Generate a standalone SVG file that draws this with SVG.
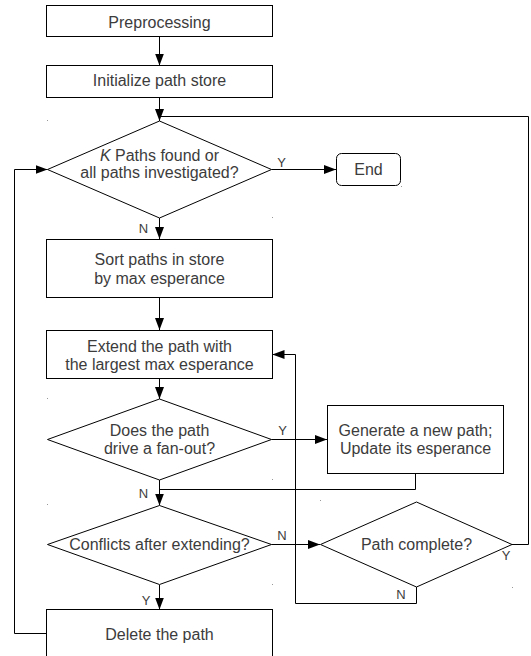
<svg xmlns="http://www.w3.org/2000/svg" width="531" height="656" viewBox="0 0 531 656">
  <style>
    .box { fill: #ffffff; stroke: #000000; stroke-width: 1; }
    .wire { fill: none; stroke: #000000; stroke-width: 1; }
    .txt { font-family: "Liberation Sans", Arial, sans-serif; font-size: 16px; fill: #3c3c3c; text-anchor: middle; }
    .lbl { font-family: "Liberation Sans", Arial, sans-serif; font-size: 13px; fill: #3c3c3c; text-anchor: middle; }
    .speck { fill: #9a9a9a; }
  </style>
  <defs>
    <marker id="arrow" markerUnits="userSpaceOnUse" markerWidth="12" markerHeight="9" refX="12" refY="4.5" orient="auto">
      <path d="M0,0 L12,4.5 L0,9 z" fill="#000000"/>
    </marker>
  </defs>
  <rect width="531" height="656" fill="#ffffff"/>

  <!-- connectors -->
  <g id="connectors">
    <path class="wire" d="M159.5,36.5 V65.5" marker-end="url(#arrow)"/>
    <path class="wire" d="M159.5,97.5 V121" marker-end="url(#arrow)"/>
    <path class="wire" d="M512,544.5 H528.5 V116.5 H159.5"/>
    <path class="wire" d="M271.5,169.5 H336" marker-end="url(#arrow)"/>
    <path class="wire" d="M159.5,218 V239" marker-end="url(#arrow)"/>
    <path class="wire" d="M159.5,297.5 V330" marker-end="url(#arrow)"/>
    <path class="wire" d="M159.5,379 V399" marker-end="url(#arrow)"/>
    <path class="wire" d="M271.5,439.5 H327" marker-end="url(#arrow)"/>
    <path class="wire" d="M415.5,473.5 V489.5 H159.5"/>
    <path class="wire" d="M159.5,480 V505.5" marker-end="url(#arrow)"/>
    <path class="wire" d="M271.5,544.5 H320" marker-end="url(#arrow)"/>
    <path class="wire" d="M416.5,587 V603.5 H295.5 V354.5 H272.5" marker-end="url(#arrow)"/>
    <path class="wire" d="M159.5,585 V609.5" marker-end="url(#arrow)"/>
    <path class="wire" d="M46.5,633.5 H14.5 V169.5 H47.5" marker-end="url(#arrow)"/>
    <text class="lbl" x="281.5" y="166.5">Y</text>
    <text class="lbl" x="143.5" y="232.5">N</text>
    <text class="lbl" x="282.5" y="435">Y</text>
    <text class="lbl" x="143.5" y="497.5">N</text>
    <text class="lbl" x="282" y="539.5">N</text>
    <text class="lbl" x="506" y="559.5">Y</text>
    <text class="lbl" x="401" y="598.5">N</text>
    <text class="lbl" x="146" y="604.5">Y</text>
  </g>

  <g id="preprocessing">
    <rect class="box" x="46.5" y="5.5" width="226" height="31"/>
    <text class="txt" x="159.5" y="27.5">Preprocessing</text>
  </g>

  <g id="init-store">
    <rect class="box" x="46.5" y="65.5" width="226" height="32"/>
    <text class="txt" x="159.5" y="86">Initialize path store</text>
  </g>

  <g id="check-done">
    <path class="box" d="M159.5,121 L271.5,169.5 L159.5,218 L47.5,169.5 Z"/>
    <text class="txt" x="159.5" y="160.5"><tspan font-style="italic">K</tspan> Paths found or</text>
    <text class="txt" x="159.5" y="177.5">all paths investigated?</text>
  </g>

  <g id="end">
    <rect class="box" x="336.5" y="153.5" width="64" height="32" rx="5" ry="5"/>
    <text class="txt" x="368.5" y="175">End</text>
  </g>

  <g id="sort-paths">
    <rect class="box" x="46.5" y="239.5" width="226" height="58"/>
    <text class="txt" x="159.5" y="265">Sort paths in store</text>
    <text class="txt" x="159.5" y="283.5">by max esperance</text>
  </g>

  <g id="extend-path">
    <rect class="box" x="46.5" y="330.5" width="226" height="48"/>
    <text class="txt" x="159.5" y="351.5">Extend the path with</text>
    <text class="txt" x="159.5" y="369.5">the largest max esperance</text>
  </g>

  <g id="check-fanout">
    <path class="box" d="M159.5,399 L271.5,439.5 L159.5,480 L47.5,439.5 Z"/>
    <text class="txt" x="159.5" y="436">Does the path</text>
    <text class="txt" x="159.5" y="454">drive a fan-out?</text>
  </g>

  <g id="new-path">
    <rect class="box" x="327.5" y="405.5" width="176" height="68"/>
    <text class="txt" x="415.5" y="436">Generate a new path;</text>
    <text class="txt" x="415.5" y="454">Update its esperance</text>
  </g>

  <g id="check-conflicts">
    <path class="box" d="M159.5,505.5 L271.5,544.5 L159.5,584.5 L47.5,544.5 Z"/>
    <text class="txt" x="159.5" y="550">Conflicts after extending?</text>
  </g>

  <g id="check-complete">
    <path class="box" d="M416.5,502 L512,544.5 L416.5,587 L320.5,544.5 Z"/>
    <text class="txt" x="416.5" y="550">Path complete?</text>
  </g>

  <g id="delete-path">
    <rect class="box" x="46.5" y="609.5" width="226" height="52"/>
    <text class="txt" x="159.5" y="640">Delete the path</text>
  </g>

  <!-- small corner specks -->
  <g id="specks">
    <rect class="speck" x="47" y="120" width="1" height="1"/>
    <rect class="speck" x="272" y="217" width="1" height="1"/>
    <rect class="speck" x="47" y="398" width="1" height="1"/>
    <rect class="speck" x="272" y="479" width="1" height="1"/>
    <rect class="speck" x="47" y="504" width="1" height="1"/>
    <rect class="speck" x="272" y="584" width="1" height="1"/>
    <rect class="speck" x="320" y="500" width="1" height="1"/>
    <rect class="speck" x="512" y="587" width="1" height="1"/>
    <rect class="speck" x="401" y="186" width="1" height="1"/>
  </g>
</svg>
